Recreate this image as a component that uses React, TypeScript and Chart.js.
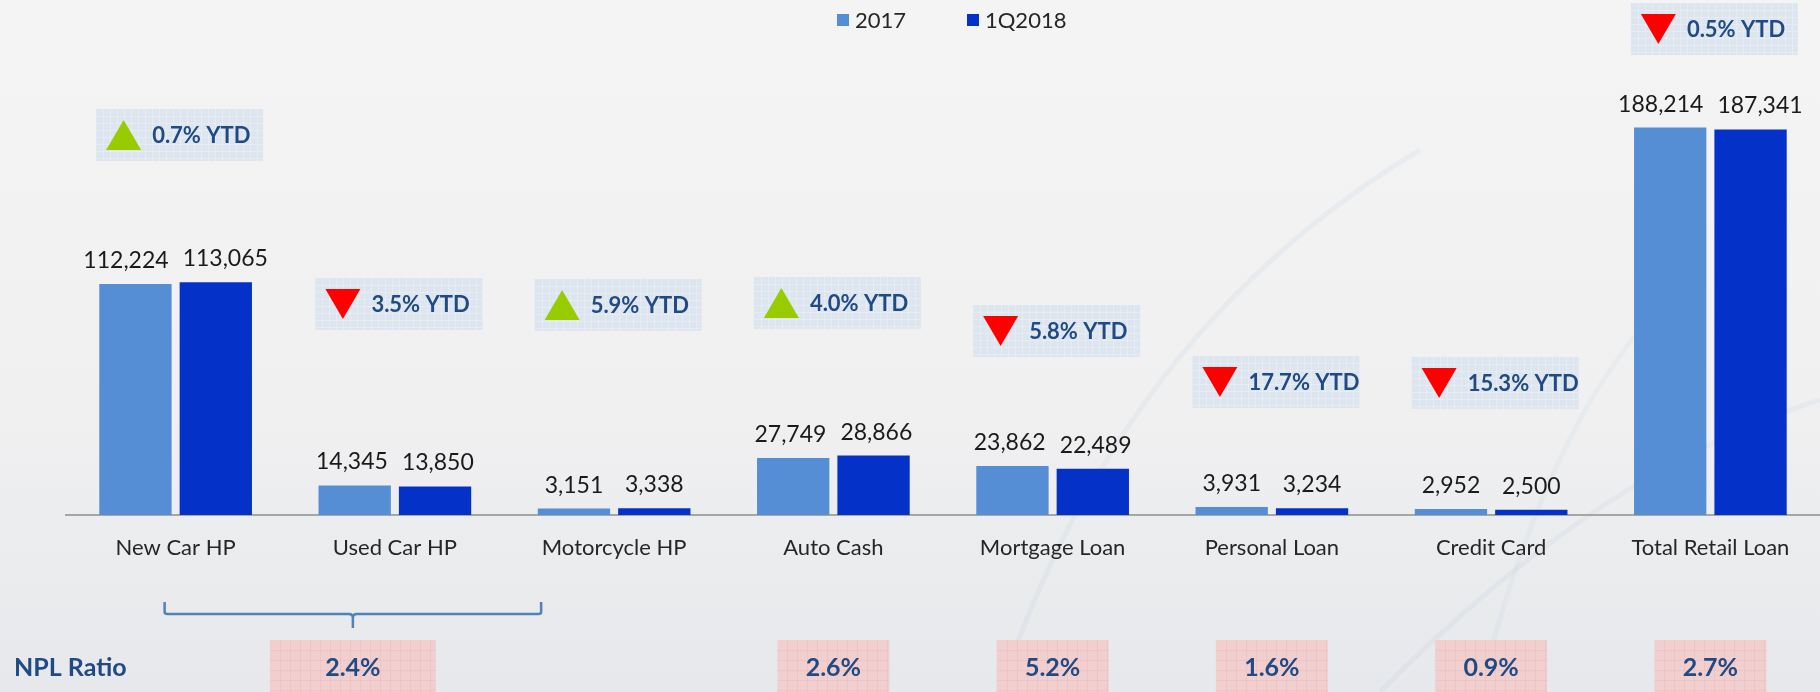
import React, { useEffect, useRef } from "react";
import { Chart, registerables } from "chart.js";

Chart.register(...registerables);

// ---------- data ----------
const categories = [
  "New Car HP",
  "Used Car HP",
  "Motorcycle HP",
  "Auto Cash",
  "Mortgage Loan",
  "Personal Loan",
  "Credit Card",
  "Total Retail Loan",
];
const seriesNames = ["2017", "1Q2018"];
const values2017 = [112224, 14345, 3151, 27749, 23862, 3931, 2952, 188214];
const values1Q2018 = [113065, 13850, 3338, 28866, 22489, 3234, 2500, 187341];
const ytdChangePct = [0.7, -3.5, 5.9, 4.0, -5.8, -17.7, -15.3, -0.5];
const nplRatioPct = [2.4, 2.6, 5.2, 1.6, 0.9, 2.7];
const nplFirstCategory = [0, 3, 4, 5, 6, 7];
const nplLastCategory = [2, 3, 4, 5, 6, 7];

// ---------- layout / style ----------
const W = 1820;
const H = 692;
const FONT = "Lato, 'Open Sans', sans-serif";
const COLORS = ["#558ED5", "#0432C9"];
const NAVY = "#1F4A84";
const ytdBoxTop = [109, 278, 279, 277, 305, 356, 357, 3];

function fmt(n: number) {
  return n.toLocaleString("en-US");
}

function drawGridBox(
  ctx: CanvasRenderingContext2D,
  x: number,
  y: number,
  w: number,
  h: number,
  fill: string,
  line: string,
  step: number
) {
  ctx.save();
  ctx.fillStyle = fill;
  ctx.fillRect(x, y, w, h);
  ctx.beginPath();
  ctx.rect(x, y, w, h);
  ctx.clip();
  ctx.strokeStyle = line;
  ctx.lineWidth = 1;
  ctx.beginPath();
  for (let gx = x + step; gx < x + w; gx += step) {
    ctx.moveTo(Math.round(gx) + 0.5, y);
    ctx.lineTo(Math.round(gx) + 0.5, y + h);
  }
  for (let gy = y + step; gy < y + h; gy += step) {
    ctx.moveTo(x, Math.round(gy) + 0.5);
    ctx.lineTo(x + w, Math.round(gy) + 0.5);
  }
  ctx.stroke();
  ctx.restore();
}

const decorPlugin = {
  id: "decor",
  beforeDraw(chart: any) {
    const ctx: CanvasRenderingContext2D = chart.ctx;
    ctx.save();
    const g = ctx.createLinearGradient(0, 0, 0, H);
    g.addColorStop(0, "#F4F4F4");
    g.addColorStop(0.6, "#F0F0F1");
    g.addColorStop(1, "#E6E8EB");
    ctx.fillStyle = g;
    ctx.fillRect(0, 0, W, H);
    // faint decorative arcs
    ctx.strokeStyle = "rgba(170,195,220,0.13)";
    ctx.lineWidth = 5;
    ctx.beginPath();
    ctx.moveTo(1000, 692);
    ctx.quadraticCurveTo(1120, 330, 1420, 150);
    ctx.stroke();
    ctx.beginPath();
    ctx.moveTo(1380, 692);
    ctx.quadraticCurveTo(1600, 470, 1820, 400);
    ctx.stroke();
    ctx.strokeStyle = "rgba(170,195,220,0.1)";
    ctx.beginPath();
    ctx.moveTo(1480, 692);
    ctx.quadraticCurveTo(1540, 450, 1640, 330);
    ctx.stroke();
    ctx.restore();
  },
  afterDatasetsDraw(chart: any) {
    const ctx: CanvasRenderingContext2D = chart.ctx;
    const xs = chart.scales.x;
    ctx.save();

    // value labels (pushed apart when neighbours would collide)
    ctx.font = `23px ${FONT}`;
    ctx.fillStyle = "#1A1A1A";
    ctx.textAlign = "center";
    ctx.textBaseline = "alphabetic";
    const m0 = chart.getDatasetMeta(0);
    const m1 = chart.getDatasetMeta(1);
    categories.forEach((_, i) => {
      const b0 = m0.data[i];
      const b1 = m1.data[i];
      const t0 = fmt(chart.data.datasets[0].data[i]);
      const t1 = fmt(chart.data.datasets[1].data[i]);
      const w0 = ctx.measureText(t0).width;
      const w1 = ctx.measureText(t1).width;
      let x0 = b0.x;
      let x1 = b1.x;
      const need = w0 / 2 + w1 / 2 + 14;
      const have = x1 - x0;
      if (have < need) {
        const d = (need - have) / 2;
        x0 -= d;
        x1 += d;
      }
      ctx.fillText(t0, x0, b0.y - 16);
      ctx.fillText(t1, x1, b1.y - 16);
    });

    // YTD boxes
    categories.forEach((_, i) => {
      const cx = xs.getPixelForValue(i) + 4;
      const bw = 167;
      const bh = 52;
      const bx = cx - bw / 2;
      const by = ytdBoxTop[i];
      drawGridBox(ctx, bx, by, bw, bh, "#DDE5EF", "rgba(236,241,248,0.55)", 7);
      const up = ytdChangePct[i] >= 0;
      const tx = bx + 10;
      const tyc = by + bh / 2;
      ctx.beginPath();
      if (up) {
        ctx.moveTo(tx, tyc + 15);
        ctx.lineTo(tx + 35, tyc + 15);
        ctx.lineTo(tx + 17.5, tyc - 15);
        ctx.fillStyle = "#99CC00";
      } else {
        ctx.moveTo(tx, tyc - 15);
        ctx.lineTo(tx + 35, tyc - 15);
        ctx.lineTo(tx + 17.5, tyc + 15);
        ctx.fillStyle = "#FF0000";
      }
      ctx.closePath();
      ctx.fill();
      ctx.font = `bold 22px ${FONT}`;
      ctx.fillStyle = NAVY;
      ctx.textAlign = "left";
      ctx.textBaseline = "middle";
      ctx.fillText(`${Math.abs(ytdChangePct[i]).toFixed(1)}% YTD`, bx + 56, tyc + 1);
    });

    // legend
    ctx.textAlign = "left";
    ctx.textBaseline = "middle";
    ctx.font = `22px ${FONT}`;
    const legendX = [837, 967];
    seriesNames.forEach((name, i) => {
      ctx.fillStyle = COLORS[i];
      ctx.fillRect(legendX[i], 14, 12, 12);
      ctx.fillStyle = "#262626";
      ctx.fillText(name, legendX[i] + 18, 21);
    });

    // NPL row
    ctx.font = `bold 25px ${FONT}`;
    ctx.fillStyle = NAVY;
    ctx.textAlign = "left";
    ctx.textBaseline = "middle";
    ctx.fillText("NPL Ratio", 14, 668);

    nplRatioPct.forEach((v, k) => {
      const a = nplFirstCategory[k];
      const b = nplLastCategory[k];
      let cx: number;
      let bw: number;
      if (b > a) {
        const L = xs.getPixelForValue(a) - 11;
        const R = xs.getPixelForValue(b) - 73;
        cx = (L + R) / 2;
        bw = 166;
        ctx.strokeStyle = "#4F81BD";
        ctx.lineWidth = 2.5;
        ctx.lineJoin = "round";
        ctx.beginPath();
        ctx.moveTo(L, 602);
        ctx.lineTo(L, 612);
        ctx.quadraticCurveTo(L, 614, L + 3, 614);
        ctx.lineTo(cx - 4, 614);
        ctx.quadraticCurveTo(cx, 614, cx, 618);
        ctx.lineTo(cx, 628);
        ctx.moveTo(cx, 618);
        ctx.quadraticCurveTo(cx, 614, cx + 4, 614);
        ctx.lineTo(R - 3, 614);
        ctx.quadraticCurveTo(R, 614, R, 612);
        ctx.lineTo(R, 602);
        ctx.stroke();
      } else {
        cx = xs.getPixelForValue(a);
        bw = 112;
      }
      drawGridBox(ctx, cx - bw / 2, 640, bw, 52, "#F2CFCF", "rgba(236,180,180,0.4)", 10);
      ctx.font = `bold 25px ${FONT}`;
      ctx.fillStyle = NAVY;
      ctx.textAlign = "center";
      ctx.textBaseline = "middle";
      ctx.fillText(`${v.toFixed(1)}%`, cx, 668);
    });

    ctx.restore();
  },
};

export default function App() {
  const ref = useRef<HTMLCanvasElement | null>(null);

  useEffect(() => {
    document.body.style.margin = "0";
    document.body.style.overflow = "hidden";
    const canvas = ref.current;
    if (!canvas) return;
    const chart = new Chart(canvas, {
      type: "bar",
      data: {
        labels: categories,
        datasets: [
          {
            label: seriesNames[0],
            data: values2017,
            backgroundColor: COLORS[0],
            categoryPercentage: 0.733,
            barPercentage: 0.9,
          },
          {
            label: seriesNames[1],
            data: values1Q2018,
            backgroundColor: COLORS[1],
            categoryPercentage: 0.733,
            barPercentage: 0.9,
          },
        ],
      },
      options: {
        responsive: false,
        animation: false,
        devicePixelRatio: 1,
        layout: { padding: { left: 66, right: 0, top: 21, bottom: 0 } },
        plugins: {
          legend: { display: false },
          tooltip: { enabled: false },
        },
        scales: {
          x: {
            grid: { display: false, drawTicks: false },
            border: { display: true, color: "#A6A6A6", width: 2 },
            ticks: {
              color: "#262626",
              font: { family: FONT, size: 22 },
              padding: 20,
              maxRotation: 0,
              autoSkip: false,
            },
            afterFit: (s: any) => {
              s.height = 177;
            },
          },
          y: { display: false, min: 0, max: 240000 },
        },
      } as any,
      plugins: [decorPlugin],
    });
    return () => chart.destroy();
  }, []);

  return (
    <div style={{ position: "fixed", left: 0, top: 0, width: W, height: H }}>
      <canvas ref={ref} width={W} height={H} style={{ display: "block", width: W, height: H }} />
    </div>
  );
}
